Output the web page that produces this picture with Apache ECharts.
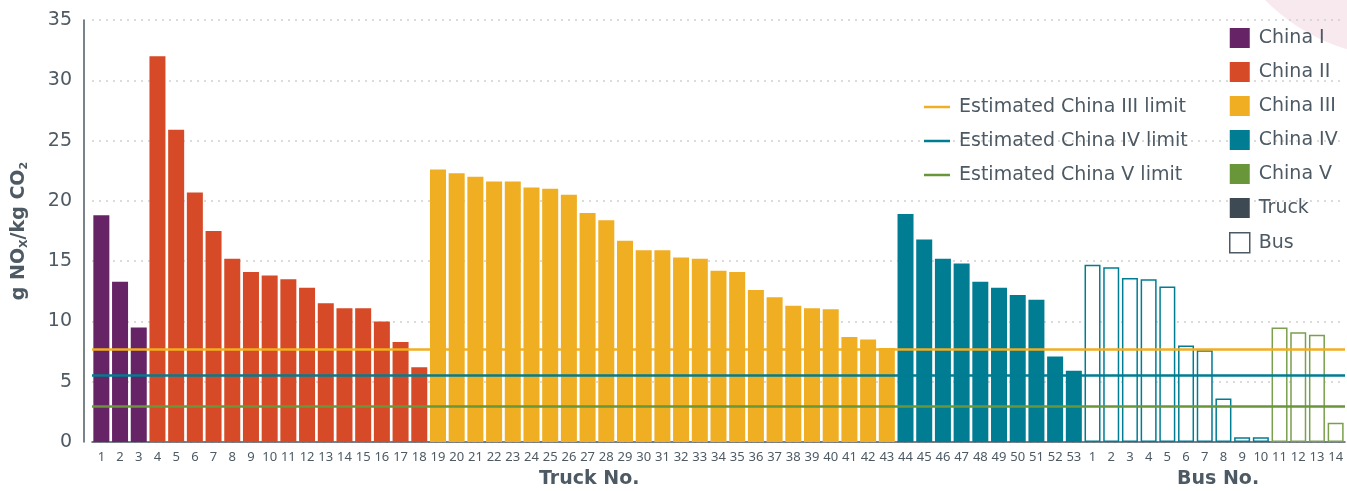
<!DOCTYPE html>
<html>
<head>
<meta charset="utf-8">
<script src="https://cdn.jsdelivr.net/npm/echarts@6/dist/echarts.min.js"></script>
<style>
  html, body { margin: 0; padding: 0; background: #fff; }
  #chart { width: 1347px; height: 491px; }
</style>
</head>
<body>
<div id="chart"></div>
<script>
// category labels
const truckNos = Array.from({ length: 53 }, (_, i) => String(i + 1))
const busNos = Array.from({ length: 14 }, (_, i) => String(i + 1))
const yTicks = [0, 5, 10, 15, 20, 25, 30, 35]

// g NOx / kg CO2, trucks by standard (in truck order)
const chinaI = [18.8, 13.3, 9.5]
const chinaII = [32.0, 25.9, 20.7, 17.5, 15.2, 14.1, 13.8, 13.5, 12.8, 11.5, 11.1, 11.1, 10.0, 8.3, 6.2]
const chinaIII = [22.6, 22.3, 22.0, 21.6, 21.6, 21.1, 21.0, 20.5, 19.0, 18.4, 16.7, 15.9, 15.9,
  15.3, 15.2, 14.2, 14.1, 12.6, 12.0, 11.3, 11.1, 11.0, 8.7, 8.5, 7.8]
const chinaIV = [18.9, 16.8, 15.2, 14.8, 13.3, 12.8, 12.2, 11.8, 7.1, 5.9]

// buses: 1-10 China IV, 11-14 China V
const busIV = [14.7, 14.5, 13.6, 13.5, 12.9, 8.0, 7.6, 3.6, 0.4, 0.4]
const busV = [9.5, 9.1, 8.9, 1.6]

// estimated limits III, IV, V
const limits = [7.7, 5.5, 3.0]

const COLORS = {
  I: '#662366',
  II: '#d64a27',
  III: '#f0ae22',
  IV: '#007d92',
  V: '#6a963a',
  truck: '#3d4a54',
  text: '#4d5a64'
}
const FONT = 'Noto Sans'
const WIDE = 'DejaVu Sans'

const categories = truckNos.map(n => 'T' + n).concat(busNos.map(n => 'B' + n))
const total = categories.length

// put values at a position in a full-length array
function place(values, start) {
  const arr = new Array(total).fill('-')
  values.forEach((v, i) => { arr[start + i] = v })
  return arr
}

let busItems = busIV.map(v => ({ value: v, itemStyle: { borderColor: COLORS.IV } }))
  .concat(busV.map(v => ({ value: v, itemStyle: { borderColor: '#7aa04e' } })))
let busData = new Array(truckNos.length).fill('-').concat(busItems)

function barSeries(name, color, data) {
  return {
    name: name,
    type: 'bar',
    stack: 'all',
    barWidth: 16,
    itemStyle: { color: color },
    data: data
  }
}

function limitSeries(name, color, value) {
  return {
    name: name,
    type: 'line',
    symbol: 'none',
    lineStyle: { color: color, width: 2.5 },
    itemStyle: { color: color },
    data: [],
    markLine: {
      silent: true,
      symbol: 'none',
      label: { show: false },
      lineStyle: { color: color, width: 2.5, type: 'solid' },
      data: [{ yAxis: value }]
    }
  }
}

let chart = echarts.init(document.getElementById('chart'))

let start = 0
const sI = place(chinaI, start); start += chinaI.length
const sII = place(chinaII, start); start += chinaII.length
const sIII = place(chinaIII, start); start += chinaIII.length
const sIV = place(chinaIV, start)

let option = {
  backgroundColor: '#fff',
  animation: false,
  textStyle: { fontFamily: FONT },
  graphic: [
    {
      type: 'circle',
      z: -10,
      shape: { cx: 1405, cy: -140, r: 198 },
      style: { fill: '#f8e9ee' }
    },
    {
      type: 'text',
      left: 539,
      top: 470,
      style: { text: 'Truck No.', font: 'bold 19px "DejaVu Sans"', fill: COLORS.text }
    },
    {
      type: 'text',
      left: 1177,
      top: 470,
      style: { text: 'Bus No.', font: 'bold 19px "DejaVu Sans"', fill: COLORS.text }
    }
  ],
  legend: [
    {
      orient: 'vertical',
      left: 924,
      top: 97,
      padding: 0,
      icon: 'rect',
      itemWidth: 26,
      itemHeight: 2.5,
      itemGap: 14,
      textStyle: { fontSize: 19, lineHeight: 20, fontFamily: WIDE, color: COLORS.text, padding: [0, 0, 0, 4] },
      data: ['Estimated China III limit', 'Estimated China IV limit', 'Estimated China V limit']
    },
    {
      orient: 'vertical',
      left: 1229,
      top: 28,
      padding: 0,
      itemWidth: 20,
      itemHeight: 20,
      itemGap: 14,
      icon: 'rect',
      textStyle: { fontSize: 19, lineHeight: 20, fontFamily: WIDE, color: COLORS.text, padding: [0, 0, 0, 4] },
      data: ['China I', 'China II', 'China III', 'China IV', 'China V', 'Truck',
        { name: 'Bus', itemStyle: { color: '#fff', borderColor: COLORS.text, borderWidth: 1.5 } }]
    }
  ],
  grid: {
    left: 92,
    right: 2,
    top: 20,
    bottom: 49,
    containLabel: false
  },
  xAxis: {
    type: 'category',
    data: categories,
    axisTick: { show: false },
    axisLine: { lineStyle: { color: COLORS.text, width: 1.5 } },
    axisLabel: {
      interval: 0,
      margin: 9,
      fontSize: 13,
      color: COLORS.text,
      formatter: v => v.slice(1)
    }
  },
  yAxis: {
    type: 'value',
    min: yTicks[0],
    max: yTicks[yTicks.length - 1],
    interval: 5,
    offset: 8,
    name: '{b|g NO}{s|X}{b|/kg CO}{s|2}',
    nameLocation: 'middle',
    nameGap: 54,
    nameTextStyle: {
      rich: {
        b: { fontSize: 19, fontWeight: 'bold', color: COLORS.text, fontFamily: WIDE },
        s: { fontSize: 11, fontWeight: 'bold', color: COLORS.text, fontFamily: WIDE, padding: [11, 0, 0, 0] }
      }
    },
    axisLine: { show: true, lineStyle: { color: COLORS.text, width: 1.5 } },
    axisTick: { show: false },
    axisLabel: { fontSize: 19, fontFamily: WIDE, color: COLORS.text, margin: 12 },
    splitLine: { lineStyle: { color: '#cfcfcf', type: [2, 5], width: 1.5 } }
  },
  series: [
    barSeries('China I', COLORS.I, sI),
    barSeries('China II', COLORS.II, sII),
    barSeries('China III', COLORS.III, sIII),
    barSeries('China IV', COLORS.IV, sIV),
    barSeries('China V', COLORS.V, []),
    barSeries('Truck', COLORS.truck, []),
    {
      name: 'Bus',
      type: 'bar',
      stack: 'all',
      barWidth: 15,
      itemStyle: { color: '#fff', borderWidth: 1.5, borderColor: COLORS.IV },
      data: busData
    },
    limitSeries('Estimated China III limit', COLORS.III, limits[0]),
    limitSeries('Estimated China IV limit', COLORS.IV, limits[1]),
    limitSeries('Estimated China V limit', COLORS.V, limits[2])
  ]
}

chart.setOption(option)
</script>
</body>
</html>
